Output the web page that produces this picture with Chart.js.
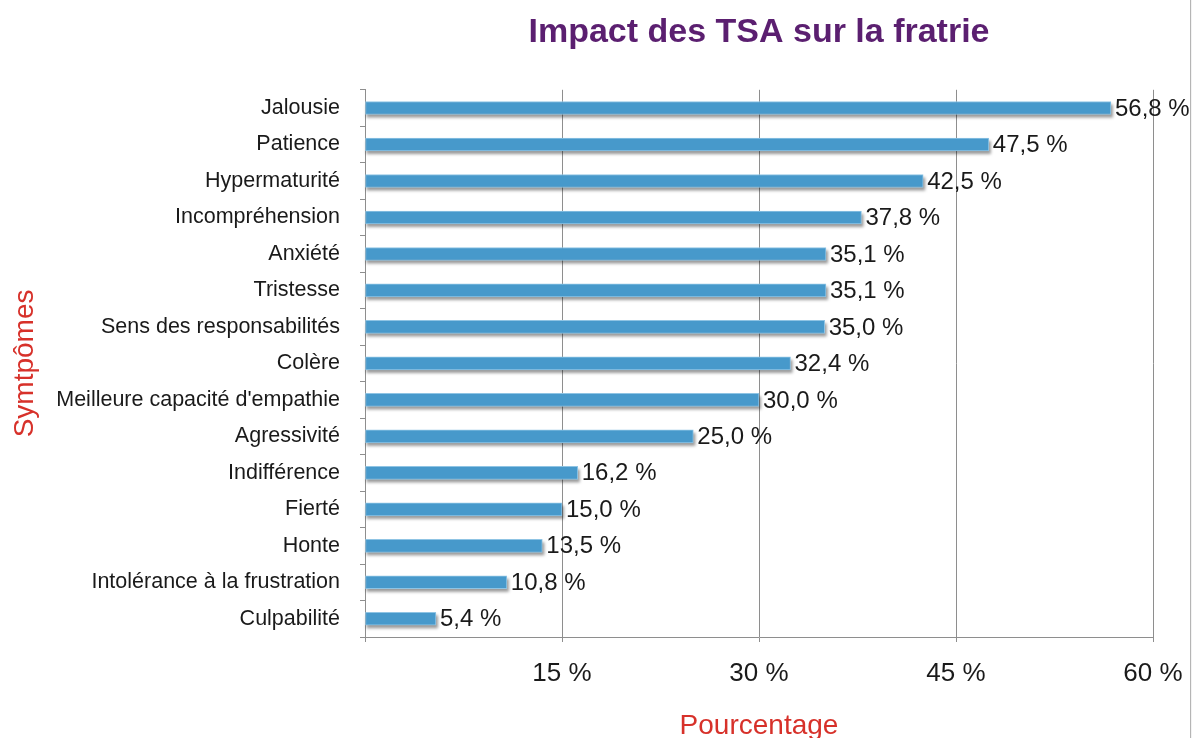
<!DOCTYPE html>
<html lang="fr">
<head>
<meta charset="utf-8">
<title>Impact des TSA sur la fratrie</title>
<script src="https://cdn.jsdelivr.net/npm/chart.js@4/dist/chart.umd.min.js"></script>
<style>
  html, body { margin: 0; padding: 0; background: #fff; }
  #wrap { width: 1192px; height: 738px; }
</style>
</head>
<body>
<div id="wrap"><canvas id="tsaChart" width="1192" height="738"></canvas></div>
<script>
// données
const symptomes = [
    'Jalousie', 'Patience', 'Hypermaturité', 'Incompréhension', 'Anxiété',
    'Tristesse', 'Sens des responsabilités', 'Colère', "Meilleure capacité d'empathie",
    'Agressivité', 'Indifférence', 'Fierté', 'Honte', 'Intolérance à la frustration', 'Culpabilité'
];
const pourcentages = [56.8, 47.5, 42.5, 37.8, 35.1, 35.1, 35.0, 32.4, 30.0, 25.0, 16.2, 15.0, 13.5, 10.8, 5.4];
const xTicks = [0, 15, 30, 45, 60];

const fontFamily = "'Liberation Sans', Arial, Helvetica, sans-serif";
const gridGrey = '#8e8e8e';

const fmt = v => v.toFixed(1).replace('.', ',') + ' %';

// ombre sous les barres (dessinée avant les barres, à partir de leur position)
const barShadow = {
    id: 'barShadow',
    beforeDatasetsDraw(chart) {
        const ctx = chart.ctx;
        const meta = chart.getDatasetMeta(0);
        ctx.save();
        ctx.filter = 'blur(1.5px)';
        ctx.fillStyle = 'rgba(0,0,0,0.4)';
        meta.data.forEach(bar => {
            const h = bar.height;
            ctx.fillRect(bar.base + 1, bar.y - h / 2 + 3, bar.x - bar.base + 1, h);
        });
        ctx.restore();
    }
};

// étiquettes de valeurs au bout des barres
const valueLabels = {
    id: 'valueLabels',
    afterDatasetsDraw(chart) {
        const ctx = chart.ctx;
        const meta = chart.getDatasetMeta(0);
        ctx.save();
        ctx.font = '24px ' + fontFamily;
        ctx.fillStyle = '#1a1a1a';
        ctx.textAlign = 'left';
        ctx.textBaseline = 'middle';
        meta.data.forEach((bar, i) => {
            ctx.fillText(fmt(pourcentages[i]), bar.x + 4, bar.y + 1);
        });
        ctx.restore();
    }
};

// bord droit de l'image
const rightEdge = {
    id: 'rightEdge',
    afterDraw(chart) {
        const ctx = chart.ctx;
        ctx.save();
        ctx.fillStyle = '#f3f3f3';
        ctx.fillRect(1191, 0, 1, 738);
        ctx.strokeStyle = '#b5b5b5';
        ctx.lineWidth = 1;
        ctx.beginPath();
        ctx.moveTo(1190.5, 0);
        ctx.lineTo(1190.5, 738);
        ctx.stroke();
        ctx.restore();
    }
};

const ctx = document.getElementById('tsaChart').getContext('2d');
const tsaChart = new Chart(ctx, {
    type: 'bar',
    data: {
        labels: symptomes,
        datasets: [{
            data: pourcentages,
            backgroundColor: '#4799cb',
            borderColor: '#8fc4e4',
            borderWidth: 1,
            borderSkipped: false,
            barThickness: 13
        }]
    },
    plugins: [barShadow, valueLabels, rightEdge],
    options: {
        indexAxis: 'y',
        responsive: false,
        animation: false,
        layout: { padding: { left: 0, right: 39, top: 0, bottom: 0 } },
        plugins: {
            legend: { display: false },
            tooltip: { enabled: false },
            title: {
                display: true,
                text: 'Impact des TSA sur la fratrie',
                color: '#5b1f70',
                fullSize: false,
                font: { family: fontFamily, size: 34, weight: 'bold', lineHeight: 1.2 },
                padding: { top: 12, bottom: 37 }
            }
        },
        scales: {
            x: {
                min: 0,
                max: 60,
                afterBuildTicks: s => { s.ticks = xTicks.map(v => ({ value: v })); },
                afterFit: s => { s.height = 101; s.paddingRight = 0; s.paddingLeft = 0; },
                ticks: {
                    color: '#1a1a1a',
                    font: { family: fontFamily, size: 26 },
                    padding: 16,
                    maxRotation: 0,
                    callback: v => v === 0 ? '' : v + ' %'
                },
                grid: { color: gridGrey, lineWidth: 1, drawTicks: true, tickLength: 5, tickColor: gridGrey },
                border: { display: true, color: gridGrey },
                title: {
                    display: true,
                    text: 'Pourcentage',
                    color: '#d7312a',
                    font: { family: fontFamily, size: 28 },
                    padding: { top: 0, bottom: -5 }
                }
            },
            y: {
                afterFit: s => { s.width = 365; },
                ticks: {
                    autoSkip: false,
                    color: '#1a1a1a',
                    font: { family: fontFamily, size: 21.5 },
                    padding: 20
                },
                grid: { drawOnChartArea: false, drawTicks: true, tickLength: 5, tickColor: gridGrey, offset: true },
                border: { display: true, color: gridGrey },
                title: {
                    display: true,
                    text: 'Symtpômes',
                    color: '#d7312a',
                    font: { family: fontFamily, size: 28 },
                    padding: { top: 8, bottom: 0 }
                }
            }
        }
    }
});
</script>
</body>
</html>
